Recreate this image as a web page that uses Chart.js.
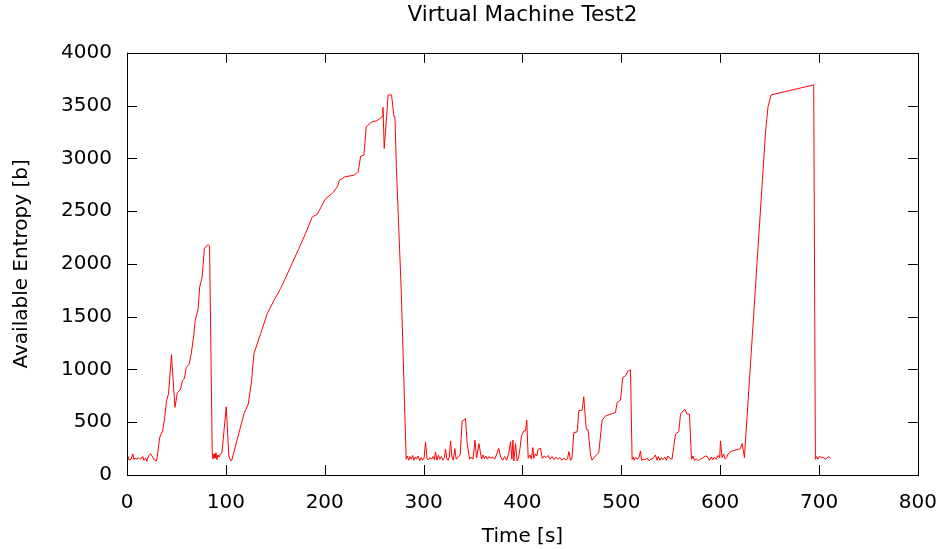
<!DOCTYPE html>
<html lang="en">
  <head>
    <meta charset="UTF-8" />
    <title>Virtual Machine Test2</title>
    <script src="https://cdn.jsdelivr.net/npm/chart.js@4"></script>
    <style>
      html, body { margin: 0; padding: 0; background: #fff; }
      #wrap { width: 945px; height: 549px; }
    </style>
  </head>
  <body>
    <div id="wrap"><canvas id="entropyChart"></canvas></div>

    <script>
      // time [s] and available entropy [b]
      const timeSec = [
        0, 1, 2, 4, 6, 7, 8, 10, 12, 14, 16, 17, 19, 20, 22, 24, 26, 28, 30,
        31, 33, 36, 38, 40, 42, 45, 48.5, 51, 54, 56, 58, 60, 63, 65, 67.5, 69, 72, 73.5, 76, 78.3, 82, 83.5,
        86.2, 87, 88, 89, 90, 91, 92, 93, 95, 96, 100.4, 103, 104.8, 106,
        113, 118.3, 122.7, 126, 128.4, 135.2, 141.9, 148.6, 155.4, 163.8, 173.9, 180.7, 187.4, 192.4,
        200.9, 207.6, 212.7, 215, 220.4, 229.5, 233.9, 236.3, 239.6, 242, 248, 253, 258, 258.9, 260.2,
        264.2, 267.6, 270, 271, 272.5, 277.4, 282.4,
        283.5, 285, 286, 287.5, 289, 290, 291.5, 293, 294.5, 296, 297.5, 299, 300.5, 302, 303.5, 305,
        306.5, 308, 309.5, 311, 312, 313.5, 315, 316.5, 318, 319.5, 321, 322.2, 323.5, 325, 326, 327.3,
        328.5, 330, 331.6, 333, 335, 337, 339, 340.5, 342.4, 344, 346.5, 348, 350, 351.9, 353.6, 356,
        358.6, 360, 361.5, 363, 364.5, 366, 368, 370, 372, 374, 376, 378, 380, 382, 384, 386, 388,
        389.3, 390.3, 391.3, 393, 394.6, 396, 397.5, 399, 401.4, 403.1, 404.4, 405.8, 407.5, 409, 410.5,
        411.5, 413, 414.5, 415.9, 418.3, 420, 422, 424, 426, 428, 430, 432, 434, 436, 438, 440, 442,
        444, 445.5, 447, 448.6, 450,
        452, 455.3, 457, 460.4, 462, 464.5, 466.4, 468.8, 470.4, 473.8, 477.2, 480.6, 484, 494.1,
        495.8, 499.2, 501.5, 504.2, 506.9, 509.3, 510.9,
        512, 513, 514.5, 516, 518, 519.4, 520.5, 522, 524, 526, 528, 530, 532, 534.5, 536, 537.5, 539,
        540.5, 542, 544, 545.5, 547, 549, 551.3,
        554.8, 558.1, 559.9, 564.2, 566.5, 568.9, 571,
        572.5, 574, 576, 578, 580, 582, 585, 587, 589, 591, 592.5, 594, 596, 598, 599.5, 600.3, 601.9,
        603.5, 605, 606.5, 608, 610, 612, 614, 616, 618.8, 620.5, 622.1, 623.5, 624.5,
        645.8, 648.4, 651.5, 694.6, 696.3,
        697.5, 699, 700.5, 702, 704, 706, 708, 710, 711.5
      ];
      const entropyBits = [
        180, 175, 140, 150, 200, 145, 160, 150, 165, 150, 175, 140, 160, 130, 185, 200, 170, 140, 135,
        200, 355, 418, 532, 703, 770, 1140, 640, 782, 807, 893, 912, 1020, 1052, 1150, 1320, 1463, 1577, 1780, 1875, 2147, 2185, 2170,
        212, 150, 200, 160, 210, 145, 190, 170, 205, 210, 646, 180, 135, 140,
        390, 580, 673, 893, 1150, 1340, 1530, 1653, 1767, 1938, 2147, 2290, 2445, 2470,
        2619, 2667, 2730, 2793, 2825, 2840, 2873, 3021, 3031, 3300, 3347, 3357, 3395, 3484, 3094,
        3601, 3601, 3395, 3395, 2914, 1742, 149,
        180, 140, 175, 150, 185, 140, 170, 150, 180, 135, 165, 140, 160, 313, 150, 145,
        165, 150, 175, 145, 218, 140, 190, 150, 175, 140, 165, 244, 150, 140, 170, 323,
        180, 140, 250, 150, 170, 190, 513, 520, 535, 307, 150, 170, 150, 330, 160, 297,
        150, 190, 155, 180, 150, 175, 160, 170, 150, 200, 254, 170, 140, 175, 140, 200, 316,
        150, 330, 133, 297, 133, 160, 250, 370, 418, 418, 520, 158, 190, 150, 260,
        158, 200, 180, 244, 253, 157, 180, 165, 185, 150, 175, 145, 170, 150, 165, 140, 160,
        140, 155, 222, 141, 150,
        402, 408, 608, 615, 741, 434, 427, 196, 140, 180, 212, 520, 560, 592,
        687, 710, 925, 940, 988, 995, 149,
        170, 140, 165, 150, 170, 228, 140, 150, 145, 160, 135, 150, 155, 190, 140, 175, 140,
        165, 145, 170, 140, 180, 160, 149,
        387, 411, 577, 624, 577, 576, 149,
        180, 140, 150, 135, 150, 160, 180, 175, 140, 170, 145, 170, 150, 185, 160, 323, 165,
        200, 150, 165, 200, 215, 228, 232, 238, 244, 250, 298, 230, 165,
        3240, 3490, 3601, 3696, 149,
        175, 150, 180, 165, 170, 150, 160, 175, 158
      ];
      const xTickStep = 100;
      const yTickStep = 500;

      const points = timeSec.map((t, i) => ({ x: t, y: entropyBits[i] }));

      // gnuplot style: closed border with inward ticks on all four sides
      const gnuplotFrame = {
        id: "gnuplotFrame",
        afterDatasetsDraw(chart) {
          const { ctx, chartArea: a, scales } = chart;
          const L = 10;
          ctx.save();
          ctx.strokeStyle = "#000";
          ctx.lineWidth = 1;
          ctx.beginPath();
          scales.x.ticks.forEach((t) => {
            const px = Math.round(scales.x.getPixelForValue(t.value)) + 0.5;
            ctx.moveTo(px, a.bottom); ctx.lineTo(px, a.bottom - L);
            ctx.moveTo(px, a.top); ctx.lineTo(px, a.top + L);
          });
          scales.y.ticks.forEach((t) => {
            const py = Math.round(scales.y.getPixelForValue(t.value)) + 0.5;
            ctx.moveTo(a.left, py); ctx.lineTo(a.left + L, py);
            ctx.moveTo(a.right, py); ctx.lineTo(a.right - L, py);
          });
          ctx.stroke();
          ctx.strokeRect(Math.round(a.left) + 0.5, Math.round(a.top) + 0.5,
            Math.round(a.right - a.left), Math.round(a.bottom - a.top));
          ctx.restore();
        },
      };

      Chart.defaults.font.family = "'DejaVu Sans', sans-serif";
      Chart.defaults.color = "#000";

      new Chart(document.getElementById("entropyChart"), {
        type: "line",
        data: {
          datasets: [
            {
              data: points,
              borderColor: "#ff0000",
              borderWidth: 1,
              pointRadius: 0,
              tension: 0,
              fill: false,
            },
          ],
        },
        options: {
          responsive: true,
          maintainAspectRatio: false,
          animation: false,
          layout: { padding: { left: 0, right: 20, top: 0, bottom: 0 } },
          plugins: {
            legend: { display: false },
            tooltip: { enabled: false },
            title: {
              display: true,
              fullSize: false,
              text: "Virtual Machine Test2",
              font: { size: 21.5, weight: "normal" },
              color: "#000",
              padding: { top: 3, bottom: 24 },
            },
          },
          scales: {
            x: {
              type: "linear",
              min: 0,
              max: 800,
              grid: { display: false },
              border: { display: false },
              ticks: { stepSize: xTickStep, padding: 8, maxRotation: 0, font: { size: 20 }, callback: (v) => String(v) },
              title: {
                display: true,
                text: "Time [s]",
                font: { size: 20 },
                padding: { top: 0, bottom: 0 },
              },
              afterFit(scale) { scale.height = 74; },
            },
            y: {
              min: 0,
              max: 4000,
              grid: { display: false },
              border: { display: false },
              ticks: { stepSize: yTickStep, padding: 7, font: { size: 20 }, callback: (v) => String(v) },
              title: {
                display: true,
                text: "Available Entropy [b]",
                font: { size: 20 },
                padding: { top: 10, bottom: 0 },
              },
              afterFit(scale) { scale.width = 127; },
            },
          },
        },
        plugins: [gnuplotFrame],
      });
    </script>
  </body>
</html>
